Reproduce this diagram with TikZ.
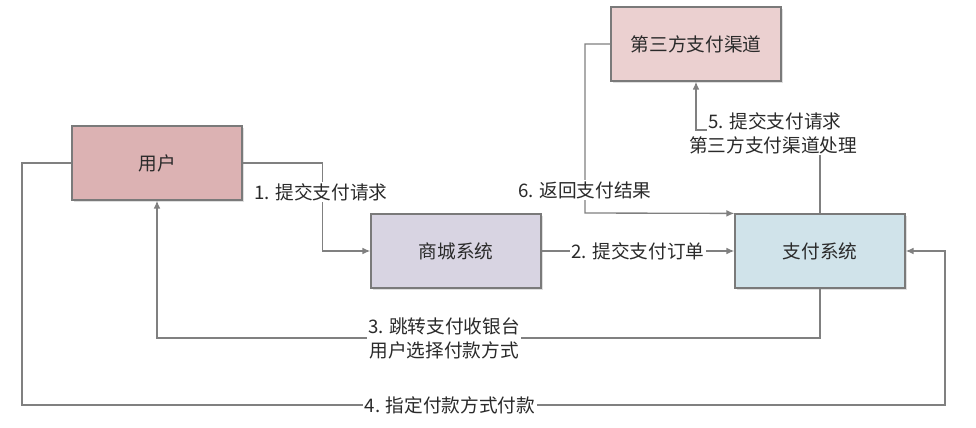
\documentclass[tikz,border=0pt]{standalone}
\usepackage{fontspec}
\setmainfont{Noto Sans CJK SC}
\usetikzlibrary{arrows.meta,shadows}
\definecolor{linegray}{HTML}{808080}
\definecolor{boxborder}{HTML}{7A7A7A}
\definecolor{textgray}{HTML}{2A2A2A}
\definecolor{userfill}{HTML}{DCB2B3}
\definecolor{mallfill}{HTML}{D8D4E2}
\definecolor{payfill}{HTML}{D0E3EA}
\definecolor{thirdfill}{HTML}{EBD0D0}
\begin{document}
\begin{tikzpicture}[x=0.75pt,y=-0.75pt,
  font=\fontsize{14}{18}\selectfont,
  box/.style={draw=boxborder, line width=0.9pt, minimum width=127.5pt, minimum height=55.5pt,
    text=textgray, drop shadow={opacity=0.25, shadow xshift=1.2pt, shadow yshift=-1.2pt}},
  conn/.style={draw=linegray, line width=1pt, -{Latex[length=6pt,width=5pt]}},
  lab/.style={fill=white, inner sep=1pt, text=textgray, align=center}]
\useasboundingbox (0,0) rectangle (976,428);
\node[box, fill=userfill] (user) at (157,163) {用户};
\node[box, fill=mallfill] (mall) at (456,251) {商城系统};
\node[box, fill=payfill] (pay) at (820,251) {支付系统};
\node[box, fill=thirdfill] (third) at (696,44) {第三方支付渠道};
% 1
\draw[conn] (user.east) -- ++(80,0) |- (mall.west);
\node[lab] (l1) at (321,192) {1. 提交支付请求};
% 2
\draw[conn] (mall.east) -- (pay.west) node[lab, midway] (l2) {2. 提交支付订单};
% 3
\coordinate (c3) at (820,338);
\draw[conn] (pay.south) -- (c3) -| (user.south);
\node[lab] (l3) at (444,338) {3. 跳转支付收银台\\用户选择付款方式};
% 4
\coordinate (c4a) at (22,405);
\coordinate (c4b) at (945,405);
\draw[conn] (user.west) -| (c4a) -- (c4b) |- (pay.east);
\node[lab] (l4) at (450,405) {4. 指定付款方式付款};
% 5
\coordinate (c5) at (696,130);
\draw[conn] (pay.north) |- (c5) -- (third.south);
\node[lab, inner ysep=4pt] (l5a) at (775,121) {5. 提交支付请求};
\node[lab] (l5b) at (773,145) {第三方支付渠道处理};
% 6
\coordinate (c6) at (585,213);
\draw[conn] (third.west) -| (c6) -- (pay.north west);
\node[lab] (l6) at (585,190) {6. 返回支付结果};
\end{tikzpicture}
\end{document}
